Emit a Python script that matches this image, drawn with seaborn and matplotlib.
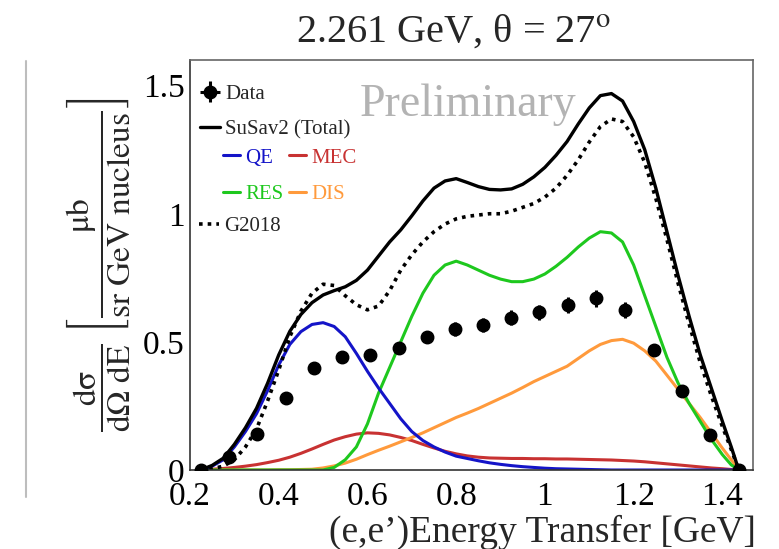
import matplotlib
matplotlib.use("Agg")
import matplotlib.pyplot as plt
from matplotlib.lines import Line2D
import pandas as pd
import seaborn as sns

# Energy transfer grid of the model curves [GeV]
energy = [0.224, 0.25, 0.275, 0.30, 0.325, 0.35, 0.375, 0.40, 0.425, 0.45,
          0.475, 0.50, 0.525, 0.55, 0.575, 0.60, 0.625, 0.65, 0.675, 0.70,
          0.725, 0.75, 0.775, 0.80, 0.825, 0.85, 0.875, 0.90, 0.925, 0.95,
          0.975, 1.00, 1.025, 1.05, 1.075, 1.10, 1.125, 1.15, 1.175, 1.20,
          1.225, 1.25, 1.275, 1.30, 1.325, 1.35, 1.375, 1.40, 1.42, 1.437]

# SuSav2 components
qe = [0.0, 0.015, 0.04, 0.09, 0.15, 0.22, 0.31, 0.41, 0.49, 0.54,
      0.568, 0.575, 0.56, 0.52, 0.455, 0.385, 0.32, 0.26, 0.20, 0.15,
      0.115, 0.09, 0.07, 0.054, 0.045, 0.036, 0.028, 0.022, 0.017, 0.013,
      0.01, 0.007, 0.005, 0.004, 0.003, 0.002, 0.001, 0.0, 0.0, 0.0,
      0.0, 0.0, 0.0, 0.0, 0.0, 0.0, 0.0, 0.0, 0.0, 0.0]
mec = [0.0, 0.003, 0.006, 0.01, 0.015, 0.021, 0.029, 0.038, 0.05, 0.065,
       0.082, 0.10, 0.117, 0.13, 0.14, 0.145, 0.143, 0.137, 0.127, 0.115,
       0.10, 0.086, 0.073, 0.063, 0.055, 0.05, 0.047, 0.046, 0.045, 0.045,
       0.044, 0.044, 0.043, 0.043, 0.042, 0.041, 0.04, 0.039, 0.037, 0.035,
       0.032, 0.028, 0.024, 0.02, 0.016, 0.012, 0.008, 0.005, 0.002, 0.0]
res = [0.0, 0.0, 0.0, 0.0, 0.0, 0.0, 0.0, 0.0, 0.0, 0.0,
       0.0, 0.0, 0.01, 0.04, 0.09, 0.18, 0.30, 0.40, 0.50, 0.60,
       0.69, 0.76, 0.80, 0.815, 0.80, 0.78, 0.76, 0.745, 0.735, 0.735,
       0.745, 0.765, 0.795, 0.83, 0.87, 0.905, 0.93, 0.925, 0.89, 0.80,
       0.68, 0.56, 0.44, 0.34, 0.26, 0.19, 0.12, 0.06, 0.02, 0.0]
dis = [0.0, 0.0, 0.0, 0.0, 0.0, 0.0, 0.0, 0.001, 0.001, 0.002,
       0.003, 0.008, 0.016, 0.027, 0.042, 0.06, 0.077, 0.093, 0.11, 0.127,
       0.145, 0.165, 0.185, 0.205, 0.222, 0.24, 0.26, 0.28, 0.30, 0.322,
       0.345, 0.365, 0.385, 0.405, 0.435, 0.465, 0.49, 0.505, 0.51, 0.495,
       0.465, 0.425, 0.37, 0.315, 0.26, 0.205, 0.145, 0.085, 0.04, 0.0]
total = [0.0, 0.018, 0.046, 0.10, 0.165, 0.241, 0.339, 0.449, 0.541, 0.607,
         0.653, 0.683, 0.70, 0.715, 0.74, 0.78, 0.835, 0.89, 0.937, 0.992,
         1.05, 1.10, 1.128, 1.137, 1.122, 1.106, 1.095, 1.093, 1.097, 1.115,
         1.144, 1.181, 1.228, 1.282, 1.35, 1.413, 1.461, 1.469, 1.44, 1.36,
         1.25, 1.10, 0.93, 0.76, 0.60, 0.45, 0.32, 0.19, 0.09, 0.0]
g2018 = [0.0, 0.005, 0.015, 0.04, 0.09, 0.16, 0.27, 0.39, 0.52, 0.62,
         0.69, 0.725, 0.72, 0.68, 0.645, 0.625, 0.64, 0.70, 0.78, 0.84,
         0.89, 0.93, 0.96, 0.98, 0.99, 0.995, 1.0, 1.0, 1.01, 1.025,
         1.04, 1.065, 1.10, 1.15, 1.21, 1.28, 1.34, 1.37, 1.36, 1.30,
         1.20, 1.06, 0.90, 0.73, 0.57, 0.42, 0.29, 0.17, 0.08, 0.0]

# Measured cross section
data_x = [0.224, 0.289, 0.35, 0.416, 0.479, 0.542, 0.605, 0.671, 0.734, 0.798,
          0.861, 0.924, 0.987, 1.053, 1.116, 1.18, 1.245, 1.308, 1.372, 1.437]
data_y = [0.0, 0.05, 0.14, 0.28, 0.40, 0.44, 0.45, 0.475, 0.52, 0.55,
          0.565, 0.595, 0.615, 0.645, 0.67, 0.625, 0.47, 0.31, 0.135, 0.0]
data_err = [0.003, 0.008, 0.012, 0.015, 0.018, 0.02, 0.02, 0.022, 0.024, 0.026,
            0.027, 0.028, 0.029, 0.031, 0.033, 0.03, 0.02, 0.014, 0.008, 0.002]

x_ticks = [0.2, 0.4, 0.6, 0.8, 1.0, 1.2, 1.4]
x_tick_labels = ["0.2", "0.4", "0.6", "0.8", "1", "1.2", "1.4"]
y_ticks = [0.0, 0.5, 1.0, 1.5]
y_tick_labels = ["0", "0.5", "1", "1.5"]

component_colors = {"QE": "#1414c8", "MEC": "#c83232", "RES": "#1ec81e", "DIS": "#ff9a3c"}

sns.set_theme(style="white")
plt.rcParams["font.family"] = ["Liberation Serif", "DejaVu Serif"]
plt.rcParams["mathtext.fontset"] = "stix"

curves = pd.DataFrame({"energy": energy, "QE": qe, "MEC": mec, "RES": res,
                       "DIS": dis, "total": total, "G2018": g2018})

fig = plt.figure(figsize=(7.79, 5.49), dpi=100)
ax = fig.add_axes([0.2439, 0.1439, 0.7227, 0.7468])

handles = {}
for name in ["MEC", "DIS", "RES", "QE"]:
    sns.lineplot(data=curves, x="energy", y=name, color=component_colors[name],
                 lw=2.2, ax=ax, legend=False)
    handles[name] = ax.lines[-1]

sns.lineplot(data=curves, x="energy", y="total", color="black", lw=2.4,
             ax=ax, legend=False)
handles["total"] = ax.lines[-1]
sns.lineplot(data=curves, x="energy", y="G2018", color="black", lw=2.6,
             ax=ax, legend=False)
handles["G2018"] = ax.lines[-1]
handles["G2018"].set_linestyle((0, (1.0, 1.4)))

data_handle = ax.errorbar(data_x, data_y, yerr=data_err, xerr=0, fmt="o",
                          color="black", ms=9, elinewidth=2.2, capsize=0,
                          zorder=5)

ax.set_xlim(0.2, 1.469)
ax.set_ylim(0.0, 1.60)
ax.set_xticks(x_ticks)
ax.set_xticklabels(x_tick_labels)
ax.set_yticks(y_ticks)
ax.set_yticklabels(y_tick_labels)
ax.tick_params(axis="x", direction="in", length=7.5, width=1.1, pad=8.5,
               labelsize=24, colors="#222222", labelcolor="black", top=False)
ax.tick_params(axis="y", direction="in", length=11, width=1.1, pad=4,
               labelsize=24, colors="#222222", labelcolor="black", right=False)
for side in ["left", "bottom"]:
    ax.spines[side].set_color("#333333")
    ax.spines[side].set_linewidth(1.2)
for side in ["top", "right"]:
    ax.spines[side].set_color("#666666")
    ax.spines[side].set_linewidth(1.2)

ax.set_xlabel("(e,e\u2019)Energy Transfer [GeV]", fontsize=27, ha="right")
ax.xaxis.set_label_coords(1.005, -0.11)
ax.set_ylabel(r"$\dfrac{\mathrm{dσ}}{\mathrm{dΩ\ dE}}\ "
              r"\left[\dfrac{\mathrm{μb}}{\mathrm{sr\ GeV\ nucleus}}\right]$",
              fontsize=24)
ax.yaxis.set_label_coords(-0.103, 0.5)

ax.text(0.494, 0.892, "Preliminary", transform=ax.transAxes, ha="center",
        va="center", fontsize=33, color="#b3b3b3")

fig.text(0.582, 0.942, "2.261 GeV, θ = 27$^{\\mathrm{o}}$",
         ha="center", va="center", fontsize=29)

leg_kw = dict(frameon=False, fontsize=15, borderpad=0, borderaxespad=0,
              loc="upper left")
leg1 = ax.legend(handles=[data_handle, handles["total"]],
                 labels=["Data", "SuSav2 (Total)"],
                 bbox_to_anchor=(0.018, 0.94), handlelength=0.95,
                 handletextpad=0.25, labelspacing=0.75, **leg_kw)
ax.add_artist(leg1)
leg2 = ax.legend(handles=[handles["QE"], handles["RES"], handles["MEC"], handles["DIS"]],
                 labels=["QE", "RES", "MEC", "DIS"], ncol=2,
                 labelcolor="linecolor", bbox_to_anchor=(0.059, 0.785),
                 handlelength=0.8, handletextpad=0.25, columnspacing=0.3,
                 labelspacing=0.8, **leg_kw)
ax.add_artist(leg2)
ax.legend(handles=[handles["G2018"]], labels=["G2018"],
          bbox_to_anchor=(0.016, 0.618), handlelength=0.95,
          handletextpad=0.25, **leg_kw)

# thin grey rule at the left margin
fig.add_artist(Line2D([0.0337, 0.0337], [1 - 61 / 549, 1 - 497 / 549],
                      color="#bdbdbd", lw=1.5))

fig.savefig("out.png", dpi=100)
